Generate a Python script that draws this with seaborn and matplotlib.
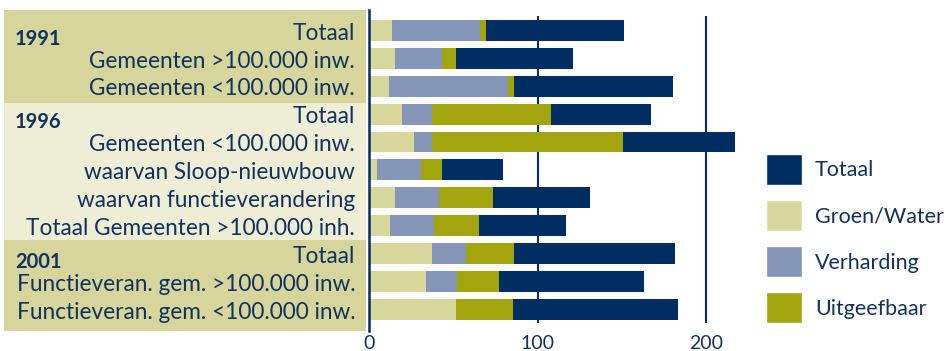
import numpy as np
import pandas as pd
import matplotlib.pyplot as plt
import seaborn as sns
from matplotlib.patches import Patch

# =========================
# data
# =========================
rows = ["Totaal", "Gemeenten >100.000 inw.", "Gemeenten <100.000 inw.",
        "Totaal", "Gemeenten <100.000 inw.", "waarvan Sloop-nieuwbouw",
        "waarvan functieverandering", "Totaal Gemeenten >100.000 inh.",
        "Totaal", "Functieveran. gem. >100.000 inw.", "Functieveran. gem. <100.000 inw."]
years = ["1991", "1996", "2001"]
year_rows = [0, 3, 8]

groen = [13.6, 15.4, 11.8, 19.5, 26.6, 4.7, 15.4, 12.4, 37.3, 33.7, 51.5]
verharding = [52.1, 27.8, 70.4, 17.8, 10.7, 26.3, 26.2, 25.9, 20.1, 18.4, 0.0]
uitgeefbaar = [3.5, 8.3, 3.6, 70.4, 113.6, 12.2, 31.8, 26.8, 28.4, 24.8, 33.7]
totaal = [82.3, 69.2, 94.7, 59.8, 66.3, 36.1, 57.4, 51.5, 95.9, 86.4, 98.2]

xticks = [0, 100, 200]

# =========================
# styling
# =========================
navy = "#002d62"
khaki = "#d8d89c"
blue = "#8696b8"
olive = "#a3a50f"
panel_dark = "#d6d69c"
panel_light = "#eeeed6"
text_col = "#12325e"

sns.set_style("white")
plt.rcParams['font.family'] = ['Lato', 'DejaVu Sans']

W, H = 948, 351
fig = plt.figure(figsize=(W / 100, H / 100), dpi=100)

y_top, y_bot = -0.73, 10.77
ax = fig.add_axes([369 / W, 1 - 331 / H, 376 / W, 321 / H])

df = pd.DataFrame({
    "rij": [f"r{i}" for i in range(len(rows))],
    "groen": groen, "verharding": verharding,
    "uitgeefbaar": uitgeefbaar, "totaal": totaal,
})
cum = np.cumsum(df[["groen", "verharding", "uitgeefbaar", "totaal"]].values, axis=1)

# stacked bars: draw the longest cumulative first, shorter ones on top
layers = [("Totaal", cum[:, 3], navy),
          ("Uitgeefbaar", cum[:, 2], olive),
          ("Verharding", cum[:, 1], blue),
          ("Groen/Water", cum[:, 0], khaki)]
for name, vals, col in layers:
    sns.barplot(x=vals, y=df["rij"], orient="h", color=col, saturation=1,
                width=0.75, linewidth=0, errorbar=None, ax=ax, zorder=2)

ax.vlines(xticks[1:], -0.52, 10.48, color=navy, lw=1.5, zorder=0.5)
ax.set_xlim(0, 223)
ax.set_ylim(y_bot, y_top)
ax.set_yticks([])
ax.set_xticks(xticks)
ax.set_xlabel("")
ax.set_ylabel("")
ax.tick_params(axis="x", length=0, pad=3, labelsize=14, labelcolor=text_col)
for s in ["top", "right", "bottom"]:
    ax.spines[s].set_visible(False)
ax.spines["left"].set_color(navy)
ax.spines["left"].set_linewidth(1.8)

# =========================
# label panel
# =========================
axl = fig.add_axes([4 / W, 1 - 331 / H, 362 / W, 321 / H])
axl.set_xlim(0, 1)
axl.set_ylim(y_bot, y_top)
axl.axis("off")
axl.axhspan(y_top, 2.61, color=panel_dark, lw=0)
axl.axhspan(2.61, 7.51, color=panel_light, lw=0)
axl.axhspan(7.51, y_bot, color=panel_dark, lw=0)

for i, lab in enumerate(rows):
    axl.text(0.97, i + 0.1, lab, ha="right", va="center",
             fontsize=16.3, color=text_col)
for yr, r in zip(years, year_rows):
    axl.text(0.03, r + 0.3, yr, ha="left", va="center",
             fontsize=14.5, fontweight="bold", color=text_col)

# =========================
# legend
# =========================
handles = [Patch(facecolor=navy, label="Totaal"),
           Patch(facecolor=khaki, label="Groen/Water"),
           Patch(facecolor=blue, label="Verharding"),
           Patch(facecolor=olive, label="Uitgeefbaar")]
fig.legend(handles=handles, loc="upper left", bbox_to_anchor=(766 / W, 1 - 154 / H),
           frameon=False, fontsize=15.5, labelcolor=text_col,
           handlelength=1.67, handleheight=1.84, handletextpad=0.6,
           labelspacing=0.7, borderpad=0, borderaxespad=0)

fig.savefig("out.png", dpi=100)
